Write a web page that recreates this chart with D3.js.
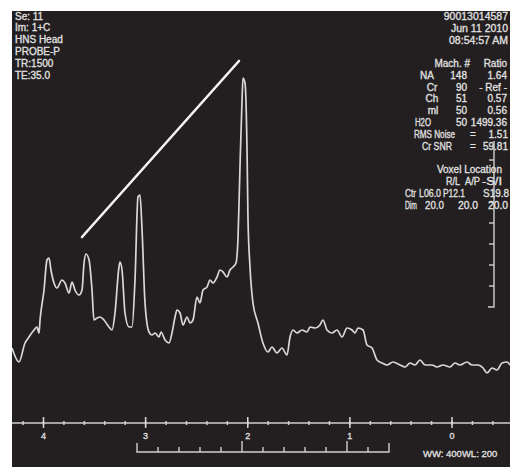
<!DOCTYPE html>
<html>
<head>
<meta charset="utf-8">
<script src="https://cdn.jsdelivr.net/npm/d3@7"></script>
<style>
  html, body { margin: 0; padding: 0; background: #ffffff; }
  svg text { font-family: "Liberation Sans", Arial, sans-serif; fill: #e2e2e2; stroke: #e2e2e2; stroke-width: 0.3px; }
</style>
</head>
<body>
<div id="chart"></div>
<script>
// spectrum: chemical shift (ppm) and signal (arb. units)
var ppm = [4.308, 4.240, 4.181, 4.142, 4.093, 4.064, 4.044, 4.034, 3.995, 3.966, 3.946, 3.927, 3.897, 3.868,
           3.819, 3.790, 3.750, 3.721, 3.692, 3.652, 3.623, 3.603, 3.584, 3.554, 3.525, 3.506, 3.476, 3.447,
           3.408, 3.359, 3.329, 3.300, 3.261, 3.251, 3.231, 3.202, 3.163, 3.133, 3.104, 3.075, 3.055, 3.035,
           3.006, 2.967, 2.938, 2.908, 2.869, 2.849, 2.810, 2.771, 2.742, 2.712, 2.693, 2.663, 2.634, 2.595,
           2.565, 2.536, 2.497, 2.468, 2.438, 2.399, 2.370, 2.340, 2.301, 2.272, 2.242, 2.203, 2.174, 2.144,
           2.115, 2.095, 2.076, 2.056, 2.047, 2.027, 2.007, 1.998, 1.978, 1.949, 1.900, 1.851, 1.802, 1.763,
           1.714, 1.665, 1.616, 1.586, 1.557, 1.518, 1.469, 1.420, 1.390, 1.341, 1.293, 1.263, 1.224, 1.175,
           1.126, 1.077, 1.028, 0.979, 0.950, 0.920, 0.871, 0.832, 0.783, 0.734, 0.685, 0.636, 0.578, 0.509,
           0.460, 0.411, 0.362, 0.313, 0.264, 0.196, 0.147, 0.088, 0.020, -0.029, -0.078, -0.147, -0.196,
           -0.255, -0.304, -0.343, -0.392, -0.441, -0.490, -0.539, -0.568];
var signal = [17, 3, 22, 28, 35, 38, 32, 45, 75, 105, 107, 95, 82, 77,
              85, 82, 72, 83, 75, 70, 75, 102, 111, 105, 75, 45, 47, 48,
              45, 38, 35, 52, 98, 103, 95, 52, 38, 38, 85, 168, 170, 135,
              62, 33, 30, 32, 28, 33, 25, 22, 32, 48, 55, 52, 40, 48,
              42, 45, 68, 62, 75, 78, 85, 82, 88, 95, 93, 88, 95, 98,
              102, 128, 198, 265, 287, 282, 215, 148, 98, 62, 42, 22, 13, 18,
              12, 17, 10, 28, 35, 32, 35, 33, 38, 37, 40, 45, 35, 32,
              35, 28, 37, 35, 32, 37, 35, 20, 17, 5, 2, 0, 3, 0,
              -2, 2, 0, 5, 0, 0, -2, 0, -2, 2, 0, 3, 0,
              0, -3, -8, -3, -5, 2, 3, 0];

// straight marker line drawn over the peaks
var markerPpm = [3.623, 2.086];
var markerSignal = [128, 304];

// ppm axis
var ppmLabels = [4, 3, 2, 1, 0];
var ppmMinorStep = 0.2;

// header text
var leftInfo = ["Se: 11", "Im: 1+C", "HNS Head", "PROBE-P", "TR:1500", "TE:35.0"];
var rightInfo = ["90013014587", "Jun 11 2010", "08:54:57 AM"];

// metabolite table
var metabolites = ["NA", "Cr", "Ch", "ml", "H2O"];
var machNumbers = ["148", "90", "51", "50", "50"];
var ratios = ["1.64", "- Ref -", "0.57", "0.56", "1499.36"];
var rmsNoise = "1.51";
var crSnr = "59.81";
var voxelCtr = ["L06.0", "P12.1", "S19.8"];
var voxelDim = ["20.0", "20.0", "20.0"];
var windowText = "WW: 400WL: 200";

// distance rulers
var rulerSteps = d3.range(0, 13);
var sideRulerSteps = d3.range(0, 8);

var width = 510, height = 468;
var panel = { x: 12, y: 11, w: 498, h: 456 };
var lineColor = "#d8d8d8";

var svg = d3.select("#chart").append("svg")
    .attr("width", width)
    .attr("height", height)
    .attr("viewBox", "0 0 " + width + " " + height);

svg.append("rect")
    .attr("x", panel.x).attr("y", panel.y)
    .attr("width", panel.w).attr("height", panel.h)
    .attr("fill", "#231f20");

svg.append("clipPath").attr("id", "clip")
    .append("rect")
    .attr("x", panel.x).attr("y", panel.y)
    .attr("width", panel.w).attr("height", panel.h);

var x = d3.scaleLinear().domain([4, 0]).range([43.5, 452]);
var y = d3.scaleLinear().domain([0, 300]).range([365, 65]);

var points = ppm.map(function (p, i) { return [p, signal[i]]; });

var line = d3.line()
    .x(function (d) { return x(d[0]); })
    .y(function (d) { return y(d[1]); })
    .curve(d3.curveMonotoneX);

var plot = svg.append("g").attr("clip-path", "url(#clip)");

plot.append("path")
    .datum(points.slice().reverse())
    .attr("d", line)
    .attr("fill", "none")
    .attr("stroke", lineColor)
    .attr("stroke-width", 1.7)
    .attr("stroke-linejoin", "round");

plot.append("line")
    .attr("x1", x(markerPpm[0])).attr("y1", y(markerSignal[0]))
    .attr("x2", x(markerPpm[1])).attr("y2", y(markerSignal[1]))
    .attr("stroke", "#f4f4f4")
    .attr("stroke-width", 2.6)
    .attr("stroke-linecap", "round");

// ppm axis along the bottom
var axisY = 423;
var axis = svg.append("g").attr("clip-path", "url(#clip)");

axis.append("line")
    .attr("x1", panel.x).attr("x2", panel.x + panel.w)
    .attr("y1", axisY).attr("y2", axisY)
    .attr("stroke", "#cfcfcf").attr("stroke-width", 1.5);

var minorTicks = d3.range(-0.6, 4.5, ppmMinorStep).map(function (d) { return Math.round(d * 10) / 10; });

axis.selectAll("line.minor").data(minorTicks)
    .enter().append("line")
    .attr("class", "minor")
    .attr("x1", function (d) { return x(d); }).attr("x2", function (d) { return x(d); })
    .attr("y1", axisY - 2).attr("y2", axisY + 2)
    .attr("stroke", "#cfcfcf").attr("stroke-width", 1.5);

axis.selectAll("line.major").data(ppmLabels)
    .enter().append("line")
    .attr("class", "major")
    .attr("x1", function (d) { return x(d); }).attr("x2", function (d) { return x(d); })
    .attr("y1", axisY - 6).attr("y2", axisY + 5)
    .attr("stroke", "#d8d8d8").attr("stroke-width", 1.5);

axis.selectAll("text").data(ppmLabels)
    .enter().append("text")
    .attr("x", function (d) { return x(d); })
    .attr("y", axisY + 16)
    .attr("text-anchor", "middle")
    .attr("font-size", 9)
    .text(function (d) { return d; });

// bracket ruler under the axis
var ruler = d3.scaleLinear().domain([0, 12]).range([137, 389]);
var rulerBase = 452;

svg.append("path")
    .attr("d", "M" + ruler(0) + "," + (rulerBase - 9) + "V" + rulerBase + "H" + ruler(12) + "V" + (rulerBase - 9))
    .attr("fill", "none").attr("stroke", "#cfcfcf").attr("stroke-width", 1.4);

svg.selectAll("line.ruler").data(rulerSteps.slice(1, 12))
    .enter().append("line")
    .attr("class", "ruler")
    .attr("x1", function (d) { return ruler(d); }).attr("x2", function (d) { return ruler(d); })
    .attr("y1", function (d) { return d % 5 === 0 ? rulerBase - 11 : rulerBase - 5; })
    .attr("y2", rulerBase)
    .attr("stroke", "#cfcfcf").attr("stroke-width", 1.4);

svg.append("text")
    .attr("x", 423).attr("y", 457)
    .attr("font-size", 9.5)
    .text(windowText);

// vertical ruler on the right
var sideRuler = d3.scaleLinear().domain([0, 7]).range([160, 307]);
var sideX = 494;

svg.append("path")
    .attr("d", "M" + sideX + ",141V" + sideRuler(7) + "H" + (sideX - 6))
    .attr("fill", "none").attr("stroke", "#cfcfcf").attr("stroke-width", 1.4);

svg.selectAll("line.side").data(sideRulerSteps.slice(0, 7))
    .enter().append("line")
    .attr("class", "side")
    .attr("x1", sideX - 5).attr("x2", sideX)
    .attr("y1", function (d) { return sideRuler(d); })
    .attr("y2", function (d) { return sideRuler(d); })
    .attr("stroke", "#cfcfcf").attr("stroke-width", 1.4);

// header texts
var fs = 10;
svg.selectAll("text.left").data(leftInfo)
    .enter().append("text")
    .attr("class", "left")
    .attr("x", 15)
    .attr("y", function (d, i) { return 19.5 + i * 11.8; })
    .attr("font-size", fs)
    .text(function (d) { return d; });

svg.selectAll("text.right").data(rightInfo)
    .enter().append("text")
    .attr("class", "right")
    .attr("x", 508)
    .attr("y", function (d, i) { return 20 + i * 11.8; })
    .attr("text-anchor", "end")
    .attr("font-size", 10.5)
    .text(function (d) { return d; });

// small helper; len squeezes a text to the width it has in the picture
function txt(s, tx, ty, anchor, len) {
    var t = svg.append("text")
        .attr("x", tx).attr("y", ty)
        .attr("text-anchor", anchor || "start")
        .attr("font-size", fs)
        .text(s);
    if (len) t.attr("textLength", len).attr("lengthAdjust", "spacingAndGlyphs");
    return t;
}

var rowY = 67;
var rowStep = 11.8;
txt("Mach. #", 470, rowY, "end");
txt("Ratio", 507, rowY, "end");

var labelX = [427, 432, 432, 433, 415];
metabolites.forEach(function (m, i) {
    var ty = rowY + (i + 1) * rowStep;
    if (i === 4) txt(m, labelX[i], ty, "start", 16);
    else txt(m, labelX[i], ty, "middle");
    txt(machNumbers[i], 467, ty, "end");
    txt(ratios[i], 507, ty, "end");
});

var ry = rowY + 6 * rowStep;
txt("RMS Noise", 414, ry, "start", 41);
txt("=", 473, ry, "middle");
txt(rmsNoise, 508, ry, "end");

ry += rowStep;
txt("Cr SNR", 422, ry, "start", 30);
txt("=", 473, ry, "middle");
txt(crSnr, 508, ry, "end");

ry += rowStep * 2;
txt("Voxel Location", 502, ry, "end");
ry += rowStep;
txt("R/L", 446, ry, "start", 14);
txt("A/P", 465, ry, "start", 15);
txt("-S/I", 502, ry, "end", 20);
ry += rowStep;
txt("Ctr", 405, ry, "start", 11);
txt(voxelCtr[0], 419, ry, "start", 22);
txt(voxelCtr[1], 443, ry, "start", 22);
txt(voxelCtr[2], 509, ry, "end", 26);
ry += rowStep;
txt("Dim", 405, ry, "start", 12);
txt(voxelDim[0], 425, ry, "start", 19);
txt(voxelDim[1], 458, ry, "start", 20);
txt(voxelDim[2], 508, ry, "end", 20);
</script>
</body>
</html>
